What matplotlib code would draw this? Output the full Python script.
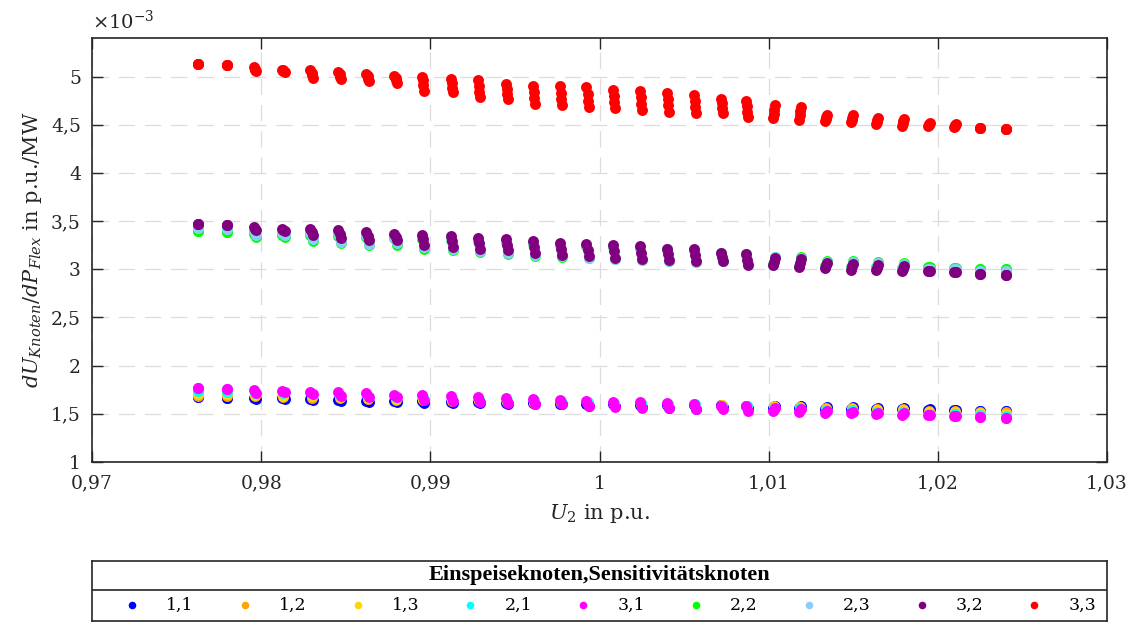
import matplotlib
matplotlib.use('Agg')
import matplotlib.pyplot as plt
from matplotlib.ticker import FuncFormatter
import numpy as np

plt.rcParams['font.family'] = 'DejaVu Serif'
plt.rcParams['mathtext.fontset'] = 'dejavuserif'

# U_2 in p.u. (upper / middle / lower point of each column)
u2_mid = [0.97627, 0.97796, 0.97964, 0.98131, 0.98298, 0.98463, 0.98629, 0.98794, 0.98958, 0.99126,
          0.99288, 0.99451, 0.99613, 0.99772, 0.99929, 1.00086, 1.00244, 1.00405, 1.00565, 1.00722,
          1.00870, 1.01031, 1.01185, 1.01339, 1.01491, 1.01640, 1.01794, 1.01948, 1.02101, 1.02249, 1.02401]
u2_hi = [0.97627, 0.97796, 0.97957, 0.98124, 0.98291, 0.98456, 0.98622, 0.98787, 0.98951, 0.99119,
         0.99281, 0.99444, 0.99606, 0.99765, 0.99922, 1.00079, 1.00237, 1.00398, 1.00558, 1.00715,
         1.00863, 1.01038, 1.01192, 1.01346, 1.01498, 1.01647, 1.01801, 1.01955, 1.02108, 1.02249, 1.02401]
u2_lo = [0.97627, 0.97796, 0.97971, 0.98138, 0.98305, 0.98470, 0.98636, 0.98801, 0.98965, 0.99133,
         0.99295, 0.99458, 0.99620, 0.99779, 0.99936, 1.00093, 1.00251, 1.00412, 1.00572, 1.00729,
         1.00877, 1.01024, 1.01178, 1.01332, 1.01484, 1.01633, 1.01787, 1.01941, 1.02094, 1.02249, 1.02401]

# dU/dP in 1e-3 p.u./MW
s11_hi = [1.672, 1.665, 1.663, 1.660, 1.652, 1.645, 1.638, 1.632, 1.628, 1.622, 1.618, 1.612, 1.608, 1.604, 1.600, 1.597,
          1.594, 1.590, 1.588, 1.590, 1.583, 1.583, 1.580, 1.573, 1.573, 1.563, 1.556, 1.546, 1.539, 1.532, 1.530]
s11_lo = [1.672, 1.665, 1.655, 1.652, 1.640, 1.632, 1.625, 1.620, 1.612, 1.612, 1.608, 1.606, 1.602, 1.600, 1.585, 1.578,
          1.568, 1.560, 1.553, 1.566, 1.560, 1.560, 1.558, 1.555, 1.552, 1.548, 1.545, 1.540, 1.535, 1.530, 1.528]
s12 = [1.690, 1.683, 1.680, 1.675, 1.666, 1.660, 1.653, 1.644, 1.641, 1.635, 1.629, 1.622, 1.617, 1.612, 1.607, 1.603,
       1.600, 1.595, 1.591, 1.589, 1.582, 1.578, 1.574, 1.564, 1.563, 1.551, 1.546, 1.533, 1.527, 1.520, 1.516]
s13 = [1.709, 1.701, 1.696, 1.690, 1.680, 1.676, 1.668, 1.657, 1.654, 1.647, 1.641, 1.633, 1.626, 1.619, 1.614, 1.608,
       1.606, 1.600, 1.594, 1.587, 1.581, 1.572, 1.568, 1.555, 1.552, 1.539, 1.535, 1.521, 1.515, 1.507, 1.502]
s21 = [1.736, 1.728, 1.721, 1.713, 1.701, 1.699, 1.690, 1.675, 1.674, 1.666, 1.658, 1.648, 1.639, 1.631, 1.625, 1.617,
       1.616, 1.607, 1.599, 1.585, 1.580, 1.564, 1.559, 1.542, 1.537, 1.522, 1.520, 1.502, 1.498, 1.489, 1.481]
s31_hi = [1.764, 1.755, 1.746, 1.736, 1.722, 1.722, 1.712, 1.694, 1.694, 1.685, 1.675, 1.664, 1.652, 1.642, 1.635, 1.625,
          1.625, 1.614, 1.604, 1.583, 1.578, 1.556, 1.550, 1.528, 1.521, 1.504, 1.504, 1.483, 1.480, 1.468, 1.458]
s31_lo = [1.764, 1.755, 1.718, 1.725, 1.701, 1.684, 1.677, 1.670, 1.642, 1.632, 1.620, 1.612, 1.605, 1.597, 1.580, 1.573,
          1.563, 1.556, 1.549, 1.546, 1.530, 1.528, 1.518, 1.511, 1.504, 1.497, 1.487, 1.483, 1.478, 1.468, 1.458]
s22_hi = [3.399, 3.392, 3.371, 3.352, 3.356, 3.348, 3.335, 3.322, 3.316, 3.305, 3.289, 3.278, 3.262, 3.253, 3.246, 3.233,
          3.226, 3.206, 3.203, 3.170, 3.160, 3.131, 3.126, 3.085, 3.084, 3.071, 3.066, 3.022, 3.017, 2.998, 3.000]
s22_lo = [3.399, 3.392, 3.337, 3.332, 3.293, 3.268, 3.248, 3.252, 3.212, 3.195, 3.179, 3.163, 3.142, 3.128, 3.115, 3.105,
          3.092, 3.085, 3.079, 3.083, 3.054, 3.051, 3.039, 3.033, 3.022, 3.020, 3.017, 3.022, 3.017, 2.998, 3.000]
s23_hi = [3.425, 3.417, 3.394, 3.374, 3.377, 3.368, 3.353, 3.339, 3.331, 3.319, 3.302, 3.289, 3.272, 3.261, 3.253, 3.239,
          3.230, 3.209, 3.204, 3.170, 3.158, 3.128, 3.121, 3.078, 3.075, 3.061, 3.054, 3.008, 3.001, 2.981, 2.981]
s23_lo = [3.425, 3.417, 3.360, 3.354, 3.314, 3.288, 3.266, 3.269, 3.227, 3.209, 3.192, 3.174, 3.152, 3.136, 3.122, 3.111,
          3.096, 3.088, 3.080, 3.083, 3.052, 3.048, 3.034, 3.026, 3.013, 3.010, 3.005, 3.008, 3.001, 2.981, 2.981]
s32_hi = [3.474, 3.463, 3.438, 3.415, 3.415, 3.404, 3.387, 3.370, 3.360, 3.345, 3.325, 3.310, 3.290, 3.277, 3.266, 3.249,
          3.238, 3.214, 3.207, 3.170, 3.155, 3.121, 3.111, 3.065, 3.059, 3.041, 3.031, 2.982, 2.972, 2.948, 2.945]
s32_mid = [3.474, 3.463, 3.420, 3.405, 3.385, 3.365, 3.345, 3.335, 3.310, 3.290, 3.270, 3.250, 3.230, 3.215, 3.200, 3.185,
           3.170, 3.155, 3.145, 3.125, 3.100, 3.080, 3.065, 3.040, 3.030, 3.015, 3.005, 2.982, 2.972, 2.948, 2.945]
s32_lo = [3.474, 3.463, 3.404, 3.395, 3.352, 3.324, 3.300, 3.300, 3.256, 3.235, 3.215, 3.195, 3.170, 3.152, 3.135, 3.121,
          3.104, 3.093, 3.083, 3.083, 3.049, 3.041, 3.024, 3.013, 2.997, 2.990, 2.982, 2.982, 2.972, 2.948, 2.945]
s33_hi = [5.132, 5.121, 5.096, 5.073, 5.069, 5.052, 5.031, 5.010, 5.000, 4.976, 4.959, 4.924, 4.907, 4.900, 4.890, 4.865,
          4.855, 4.831, 4.813, 4.769, 4.751, 4.700, 4.689, 4.606, 4.596, 4.572, 4.562, 4.516, 4.503, 4.464, 4.451]
s33_m1 = [5.132, 5.121, 5.082, 5.064, 5.042, 5.025, 5.004, 4.985, 4.960, 4.930, 4.900, 4.872, 4.844, 4.833, 4.820, 4.801,
          4.786, 4.766, 4.750, 4.721, 4.693, 4.656, 4.643, 4.584, 4.573, 4.551, 4.539, 4.508, 4.494, 4.464, 4.451]
s33_m2 = [5.132, 5.121, 5.068, 5.054, 5.014, 4.998, 4.978, 4.960, 4.915, 4.884, 4.842, 4.820, 4.780, 4.767, 4.751, 4.736,
          4.717, 4.702, 4.687, 4.672, 4.636, 4.612, 4.597, 4.563, 4.550, 4.531, 4.515, 4.500, 4.484, 4.464, 4.451]
s33_lo = [5.132, 5.121, 5.055, 5.045, 4.987, 4.972, 4.951, 4.935, 4.845, 4.837, 4.785, 4.769, 4.717, 4.700, 4.682, 4.672,
          4.648, 4.637, 4.624, 4.624, 4.578, 4.568, 4.551, 4.541, 4.527, 4.510, 4.492, 4.492, 4.475, 4.464, 4.451]

labels = ['1,1', '1,2', '1,3', '2,1', '3,1', '2,2', '2,3', '3,2', '3,3']
colors = ['#0000ff', '#ffa500', '#ffd700', '#00ffff', '#ff00ff', '#00ff00', '#87cefa', '#800080', '#ff0000']
series = [
    [(u2_hi, s11_hi), (u2_lo, s11_lo)],
    [(u2_mid, s12)],
    [(u2_mid, s13)],
    [(u2_mid, s21)],
    [(u2_hi, s31_hi), (u2_lo, s31_lo)],
    [(u2_hi, s22_hi), (u2_lo, s22_lo)],
    [(u2_hi, s23_hi), (u2_lo, s23_lo)],
    [(u2_hi, s32_hi), (u2_mid, s32_mid), (u2_lo, s32_lo)],
    [(u2_hi, s33_hi), (u2_mid, s33_m1), (u2_mid, s33_m2), (u2_lo, s33_lo)],
]

fig = plt.figure(figsize=(11.35, 6.24), dpi=100)
ax = fig.add_axes([0.0811, 0.2596, 0.8943, 0.6795])

for lab, col, parts in zip(labels, colors, series):
    xs = np.concatenate([p[0] for p in parts])
    ys = np.concatenate([p[1] for p in parts])
    ax.scatter(xs, ys, s=62, color=col, linewidths=0, zorder=3)

ax.set_xlim(0.97, 1.03)
ax.set_ylim(1, 5.4)
ax.set_xticks(np.arange(0.97, 1.0301, 0.01))
ax.set_yticks(np.arange(1, 5.01, 0.5))
fmt = FuncFormatter(lambda v, p: ('%g' % round(v, 4)).replace('.', ','))
ax.xaxis.set_major_formatter(fmt)
ax.yaxis.set_major_formatter(fmt)
ax.tick_params(direction='in', length=8, width=1, top=True, right=True, labelsize=13.5,
               colors='#262626')
ax.tick_params(axis='x', pad=9)
ax.tick_params(axis='y', pad=8)
ax.grid(True, color='#dcdcdc', linestyle=(0, (13, 8)), linewidth=0.9, zorder=0)
for sp in ax.spines.values():
    sp.set_color('#262626')
    sp.set_linewidth(1.2)

ax.set_xlabel(r'$U_2$ in p.u.', fontsize=15, color='#262626', labelpad=7)
ax.set_ylabel(r'$dU_{Knoten}/dP_{Flex}$ in p.u./MW', fontsize=15, color='#262626', labelpad=5)
ax.text(0.0, 1.012, r'$\times10^{-3}$', transform=ax.transAxes, fontsize=14, color='#262626',
        ha='left', va='bottom')

# legend box below the axes
lax = fig.add_axes([0.0811, 0.0048, 0.8943, 0.0962])
lax.set_xlim(0, 9)
lax.set_ylim(0, 60)
lax.set_xticks([])
lax.set_yticks([])
for sp in lax.spines.values():
    sp.set_color('#262626')
    sp.set_linewidth(1.2)
lax.axhline(31, color='#262626', linewidth=1.2)
lax.text(4.5, 45.5, 'Einspeiseknoten,Sensitivitätsknoten', ha='center', va='center',
         fontsize=16, fontweight='bold', family='Liberation Serif')
for i, (lab, col) in enumerate(zip(labels, colors)):
    lax.scatter([i + 0.355], [15.5], s=30, color=col, linewidths=0)
    lax.text(i + 0.78, 15.5, lab, ha='center', va='center', fontsize=12.5)

fig.savefig('out.png', dpi=100)
